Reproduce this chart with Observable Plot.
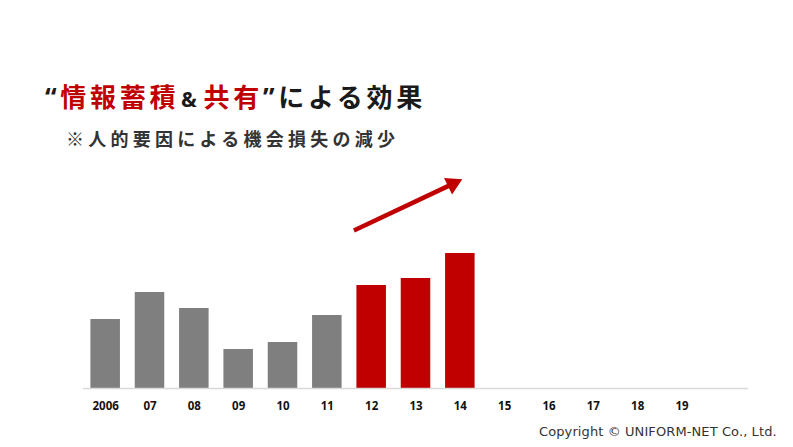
<!DOCTYPE html>
<html>
<head>
<meta charset="utf-8">
<script src="https://cdn.jsdelivr.net/npm/d3@7"></script>
<script src="https://cdn.jsdelivr.net/npm/@observablehq/plot@0.6"></script>
<style>
  html, body { margin: 0; padding: 0; background: #ffffff; }
  #page { position: relative; width: 793px; height: 447px; overflow: hidden; }
  #header { position: relative; height: 165px; }
  #title { position: absolute; left: 45px; top: 81px; font-family: "Noto Sans CJK JP", sans-serif; font-weight: 700; font-size: 26px; line-height: 30px; letter-spacing: 3.7px; color: #1a1a1a; white-space: nowrap; }
  #title .r { color: #c00000; }
  #title .amp { font-size: 21px; font-family: "Noto Sans", sans-serif; margin: 0 3px 0 2px; }
  #title .q { font-family: "Noto Sans", sans-serif; }
  #subtitle { position: absolute; left: 66px; top: 126px; font-family: "Noto Sans CJK JP", sans-serif; font-weight: 700; font-size: 18px; line-height: 24px; letter-spacing: 4.25px; color: #333333; white-space: nowrap; }
  #caption { position: absolute; left: 539px; top: 423px; font-family: "DejaVu Sans", sans-serif; font-size: 13px; line-height: 18px; letter-spacing: 0.1px; color: #333333; white-space: nowrap; }
</style>
</head>
<body>
<div id="page">
  <div id="header">
    <div id="title"><span class="q">“</span><span class="r">情報蓄積</span><span class="amp">&amp;</span><span class="r">共有</span><span class="q">”</span>による効果</div>
    <div id="subtitle">※人的要因による機会損失の減少</div>
  </div>
  <div id="chart"></div>
  <div id="caption">Copyright © UNIFORM-NET Co., Ltd.</div>
</div>
<script>
// Categories (years) and values
const years = ["2006", "07", "08", "09", "10", "11", "12", "13", "14", "15", "16", "17", "18", "19"];
const values = [69, 96, 80, 39, 46, 73, 103, 110, 135, null, null, null, null, null];
const groups = ["before", "before", "before", "before", "before", "before", "after", "after", "after", "none", "none", "none", "none", "none"];
// Trend arrow (x in category index units, y in value units)
const arrowX = [5.6, 7.83];
const arrowY = [158, 204.6];

const RED = "#c00000";
const GRAY = "#7f7f7f";

const data = years.map((label, i) => ({ i, label, value: values[i], group: groups[i] }))
  .filter(d => d.value != null);

const chart = Plot.plot({
  width: 793,
  height: 282,
  marginLeft: 83,
  marginRight: 45,
  marginTop: 5,
  marginBottom: 59,
  style: { fontFamily: "'Noto Sans', sans-serif", background: "transparent" },
  x: { type: "linear", domain: [-0.5, years.length + 0.5], axis: null },
  y: { domain: [0, 218], axis: null },
  marks: [
    Plot.rectY(data, {
      x1: d => d.i - 0.333,
      x2: d => d.i + 0.333,
      y: "value",
      fill: d => d.group === "after" ? RED : GRAY
    }),
    Plot.ruleY([0], { stroke: "#d9d9d9", strokeWidth: 1.5 }),
    Plot.axisX({
      ticks: d3.range(years.length),
      tickFormat: i => years[i],
      tickSize: 0,
      tickPadding: 13,
      fontSize: 11.5,
      fontWeight: "bold",
      fill: "#111111"
    }),
    Plot.link([{ x1: arrowX[0], y1: arrowY[0], x2: arrowX[1], y2: arrowY[1] }], {
      x1: "x1", y1: "y1", x2: "x2", y2: "y2",
      stroke: RED, strokeWidth: 4.5, strokeLinecap: "butt"
    }),
    Plot.dot([{ x: arrowX[1], y: arrowY[1] }], {
      x: "x", y: "y", symbol: "triangle", r: 6.8, fill: RED, stroke: "none", rotate: 64
    })
  ]
});
document.getElementById("chart").appendChild(chart);
</script>
</body>
</html>
